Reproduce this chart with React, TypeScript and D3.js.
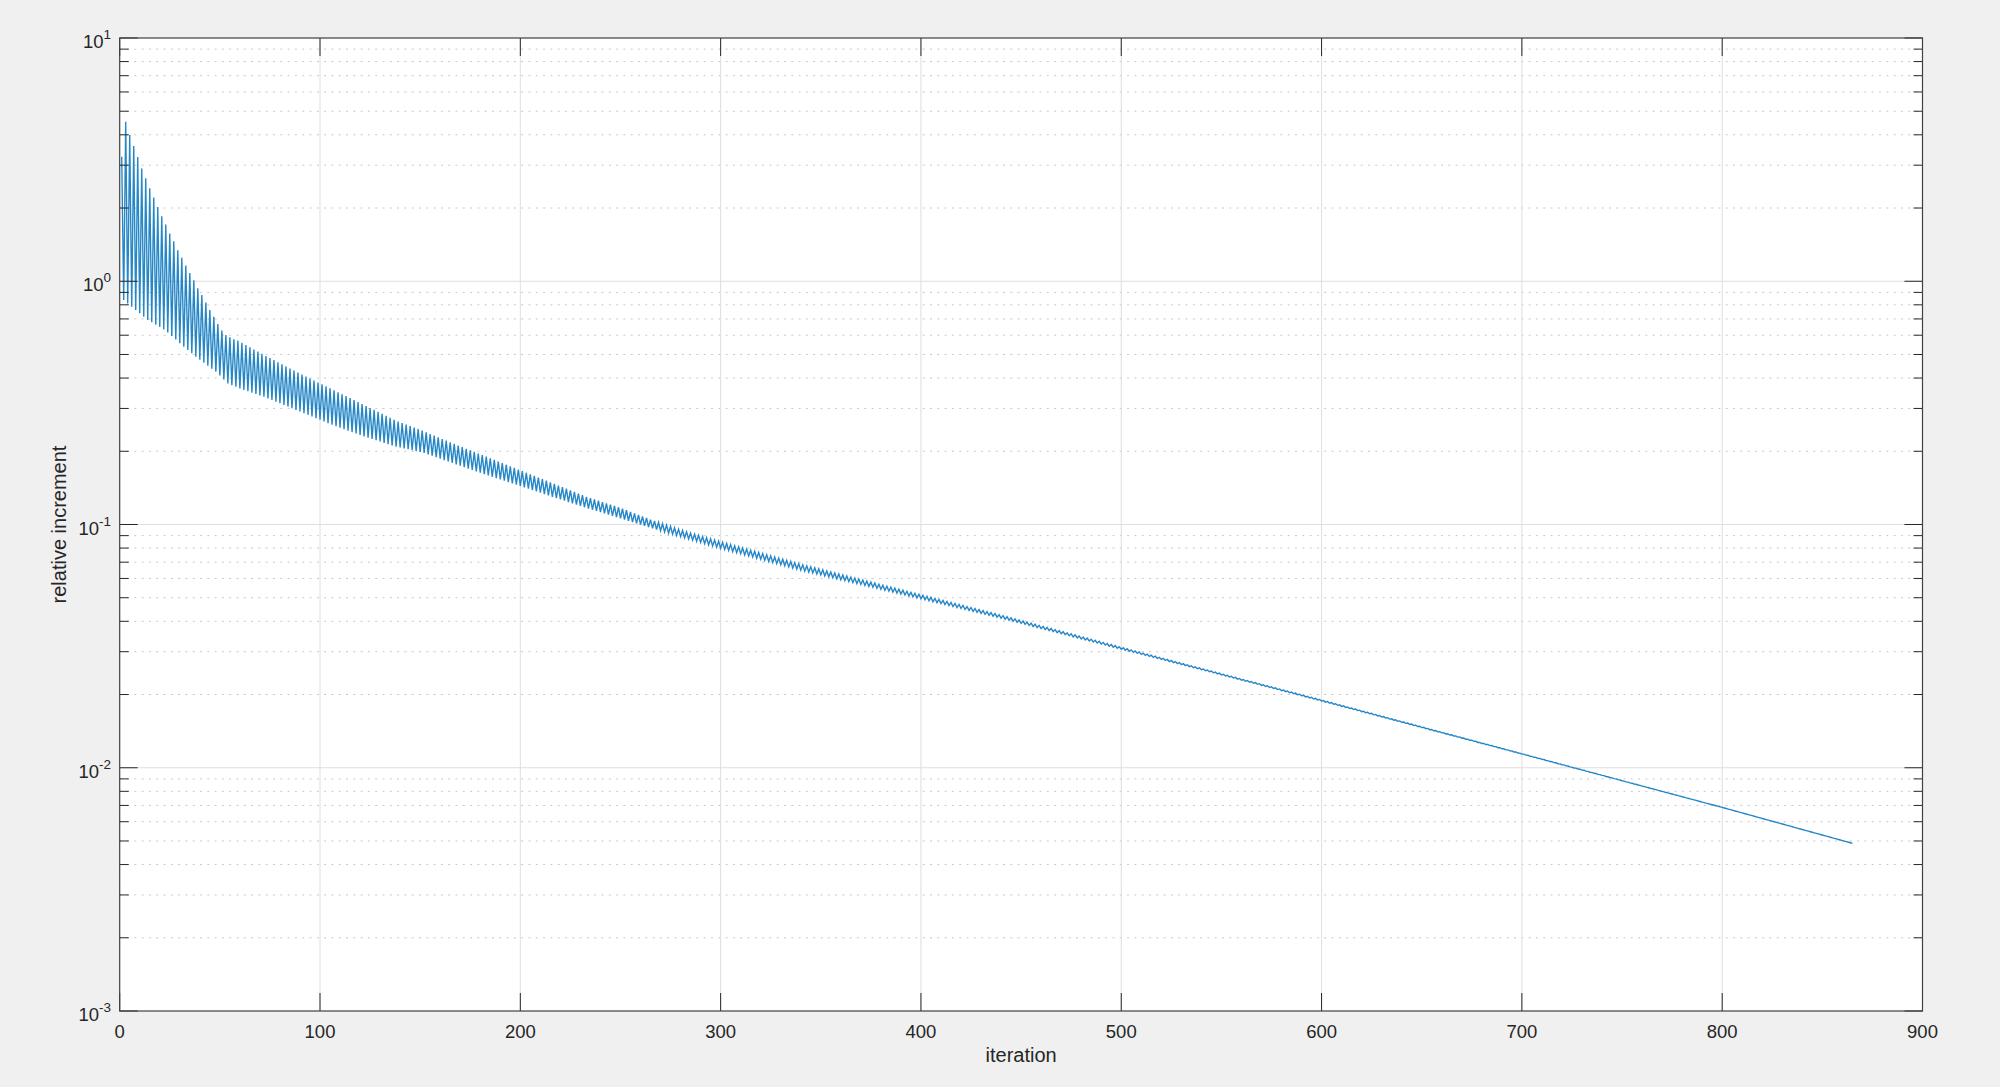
import React from "react";
import * as d3 from "d3";

// ---- data (envelopes of the period-2 oscillation) ----
const upperIter = [1, 3, 5, 7, 9, 11, 13, 15, 17, 19, 21, 23, 25, 27, 29, 31, 33, 35, 37, 39, 41, 43, 45, 47, 49, 51, 53, 55, 57, 59, 61, 72, 88, 105, 122, 138, 150, 166, 183, 200, 216, 233, 250, 266, 283, 300, 340, 400, 440, 500, 540, 600, 700, 800, 865];
const upperVal = [3.25, 4.53, 3.99, 3.6, 3.24, 2.91, 2.65, 2.41, 2.21, 2.02, 1.85, 1.71, 1.57, 1.46, 1.34, 1.25, 1.16, 1.08, 1.01, 0.935, 0.877, 0.817, 0.762, 0.714, 0.667, 0.627, 0.601, 0.589, 0.577, 0.57, 0.558, 0.498, 0.425, 0.363, 0.31, 0.267, 0.245, 0.216, 0.19, 0.167, 0.148, 0.13, 0.117, 0.104, 0.0933, 0.0849, 0.0686, 0.0514, 0.0424, 0.0313, 0.0256, 0.019, 0.01143, 0.00687, 0.00489];
const lowerIter = [2, 4, 14, 23, 31, 39, 48, 54, 57, 61, 72, 88, 105, 122, 138, 152, 166, 183, 200, 216, 233, 250, 266, 283, 300, 340, 400, 440, 500, 540, 600, 700, 800, 865];
const lowerVal = [0.838, 0.811, 0.693, 0.627, 0.547, 0.482, 0.425, 0.38, 0.371, 0.36, 0.335, 0.296, 0.259, 0.23, 0.209, 0.197, 0.179, 0.16, 0.144, 0.13, 0.117, 0.106, 0.0964, 0.0877, 0.0798, 0.0649, 0.0495, 0.0412, 0.0307, 0.0253, 0.0188, 0.01138, 0.00687, 0.00489];
const lastIteration = 865;

const xTicks = [0, 100, 200, 300, 400, 500, 600, 700, 800, 900];
const yExponents = [-3, -2, -1, 0, 1];
const xLabel = "iteration";
const yLabel = "relative increment";

// ---- layout ----
const W = 2000, H = 1087;
const L = 119.7, R = 1922.5, T = 38, B = 1011;

export default function App() {
  const x = d3.scaleLinear().domain([0, 900]).range([L, R]);
  const y = d3.scaleLog().domain([1e-3, 10]).range([B, T]);

  // envelope scales in log space between anchors
  const loScale = d3.scaleLinear().domain(lowerIter).range(lowerVal.map(Math.log10)).clamp(true);
  const upScale = d3.scaleLinear().domain(upperIter).range(upperVal.map(Math.log10)).clamp(true);

  const series: { i: number; v: number }[] = d3.range(1, lastIteration + 1).map((i) => ({
    i,
    v: Math.pow(10, i % 2 === 1 ? upScale(i) : loScale(i)),
  }));

  const line = d3
    .line<{ i: number; v: number }>()
    .x((d) => x(d.i))
    .y((d) => y(d.v));

  const minor: number[] = [];
  yExponents.slice(0, -1).forEach((e) => {
    for (let k = 2; k <= 9; k++) minor.push(k * Math.pow(10, e));
  });

  const tickColor = "#262626";
  const font = "'Liberation Sans', Arial, Helvetica, sans-serif";

  return (
    <svg width={W} height={H} style={{ position: "absolute", left: 0, top: 0 }} fontFamily={font}>
      <rect x={0} y={0} width={W} height={H} fill="#f0f0f0" />
      <rect x={L} y={T} width={R - L} height={B - T} fill="#ffffff" />
      <defs>
        <clipPath id="plotclip">
          <rect x={L} y={T} width={R - L} height={B - T} />
        </clipPath>
      </defs>
      {/* minor grid */}
      {minor.map((v, k) => (
        <line key={"mg" + k} x1={L} x2={R} y1={y(v)} y2={y(v)} stroke="#c8c8c8" strokeWidth={1} strokeDasharray="2,5.3" />
      ))}
      {/* major grid */}
      {xTicks.slice(1, -1).map((t) => (
        <line key={"gx" + t} x1={x(t)} x2={x(t)} y1={T} y2={B} stroke="#dedede" strokeWidth={1} />
      ))}
      {yExponents.slice(1, -1).map((e) => (
        <line key={"gy" + e} x1={L} x2={R} y1={y(Math.pow(10, e))} y2={y(Math.pow(10, e))} stroke="#dedede" strokeWidth={1} />
      ))}
      {/* data */}
      <g clipPath="url(#plotclip)">
        <path d={line(series) || ""} fill="none" stroke="#0072BD" strokeOpacity={0.85} strokeWidth={1.4} strokeLinejoin="miter" />
      </g>
      {/* ticks */}
      {xTicks.map((t) => (
        <g key={"xt" + t}>
          <line x1={x(t)} x2={x(t)} y1={B} y2={B - 18} stroke={tickColor} strokeWidth={1} />
          <line x1={x(t)} x2={x(t)} y1={T} y2={T + 18} stroke={tickColor} strokeWidth={1} />
          <text x={x(t)} y={1037.5} textAnchor="middle" fontSize={18.5} fill={tickColor}>
            {t}
          </text>
        </g>
      ))}
      {yExponents.map((e) => {
        const yy = y(Math.pow(10, e));
        return (
          <g key={"yt" + e}>
            <line x1={L} x2={L + 18} y1={yy} y2={yy} stroke={tickColor} strokeWidth={1} />
            <line x1={R} x2={R - 18} y1={yy} y2={yy} stroke={tickColor} strokeWidth={1} />
            <text x={111} y={yy + 10} textAnchor="end" fontSize={18.5} fill={tickColor}>
              10
              <tspan dy={-9} fontSize={13.5}>
                {String(e)}
              </tspan>
            </text>
          </g>
        );
      })}
      {minor.map((v, k) => (
        <g key={"mt" + k}>
          <line x1={L} x2={L + 9} y1={y(v)} y2={y(v)} stroke={tickColor} strokeWidth={1} />
          <line x1={R} x2={R - 9} y1={y(v)} y2={y(v)} stroke={tickColor} strokeWidth={1} />
        </g>
      ))}
      {/* box */}
      <rect x={L} y={T} width={R - L} height={B - T} fill="none" stroke="#404040" strokeWidth={1.2} />
      {/* labels */}
      <text x={(L + R) / 2} y={1062} textAnchor="middle" fontSize={20} fill={tickColor}>
        {xLabel}
      </text>
      <text transform={`translate(66,${(T + B) / 2}) rotate(-90)`} textAnchor="middle" fontSize={20} fill={tickColor}>
        {yLabel}
      </text>
    </svg>
  );
}
